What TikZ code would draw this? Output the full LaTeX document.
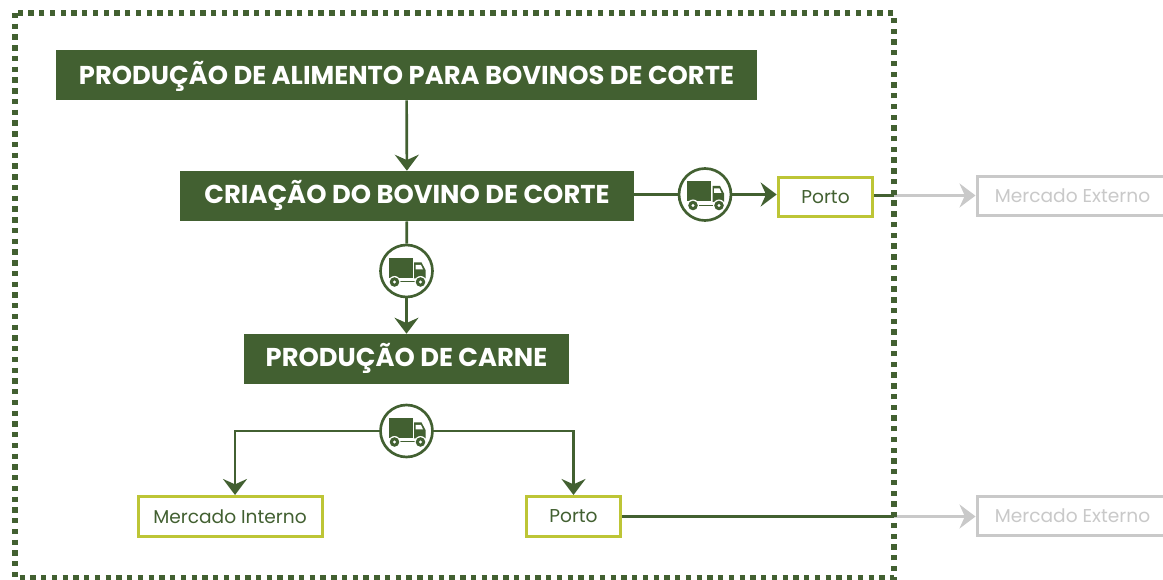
\documentclass[tikz,border=0pt]{standalone}
\usepackage{fontspec}
\setmainfont{Poppins}
\usetikzlibrary{arrows.meta,calc}
\definecolor{grn}{HTML}{426031}
\definecolor{lime}{HTML}{BDC536}
\definecolor{gry}{HTML}{C9C9C9}
\tikzset{x=0.75pt,y=-0.75pt,
  title/.style={fill=grn,text=white,font=\bfseries\fontsize{19.35pt}{22pt}\selectfont,inner sep=0pt,anchor=center,text depth=0pt,text height=12pt},
  dest/.style={draw=lime,line width=2.25pt,fill=white,text=grn,font=\fontsize{13.95pt}{16pt}\selectfont,inner sep=0pt,anchor=center},
  ext/.style={draw=gry,line width=2.25pt,fill=white,text=gry,font=\fontsize{13.95pt}{16pt}\selectfont,inner sep=0pt,anchor=center},
  truckc/.style={circle,draw=grn,line width=2pt,fill=white,minimum size=39pt,inner sep=0pt},
  link/.style={draw=grn,line width=2pt},
  linkg/.style={draw=gry,line width=2pt},
  tip/.style={-{Stealth[length=12pt,width=18pt,inset=4pt]}},
  frame/.style={draw=grn,line width=4pt,dash pattern=on 4pt off 4.06pt}
}
\newcommand{\truckicon}[1]{%
  \begin{scope}[shift={(#1)}]
    \fill[grn] (-18,-13) rectangle (6,7);
    \fill[grn] (7.5,-8.5) -- (15,-8.5) -- (19,-1) -- (19,7.5) -- (7.5,7.5) -- cycle;
    \fill[white] (9,-6) -- (14.5,-6) -- (16.5,-1.5) -- (9,-1.5) -- cycle;
    \draw[grn,line width=0.6pt] (-16,10.5) -- (-14,10.5) (-7,10.5) -- (9,10.5);
    \foreach \cx in {-12,14}{
      \fill[white] (\cx,11) circle (6);
      \fill[grn] (\cx,11) circle (4.8);
      \fill[white] (\cx,11) circle (1.7);
    }
  \end{scope}}
\begin{document}
\begin{tikzpicture}
\useasboundingbox (0,0) rectangle (1163,580);
% nodes
\node[title,text height=13.8pt,minimum width=525.75pt,minimum height=37.5pt] (feed) at (406.5,75) {PRODUÇÃO DE ALIMENTO PARA BOVINOS DE CORTE};
\node[title,minimum width=340.5pt,minimum height=37.5pt] (cria) at (407,196) {CRIAÇÃO DO BOVINO DE CORTE};
\node[title,minimum width=243.75pt,minimum height=37.5pt] (carne) at (406.5,359) {PRODUÇÃO DE CARNE};
\node[dest,minimum width=71pt,minimum height=29.6pt] (porto1) at (825.5,197) {Porto};
\node[ext,minimum width=143.25pt,minimum height=29.6pt] (ext1) at (1072.5,196) {Mercado Externo};
\node[dest,minimum width=138pt,minimum height=30pt] (interno) at (230,516.5) {Mercado Interno};
\node[dest,minimum width=71pt,minimum height=30pt] (porto2) at (573.5,516.5) {Porto};
\node[ext,minimum width=143.25pt,minimum height=29.6pt] (ext2) at (1072.5,516) {Mercado Externo};
\node[truckc] (t1) at (705,194.5) {};
\node[truckc] (t2) at (406.5,271) {};
\node[truckc] (t3) at (406.5,431) {};
\coordinate (f1) at (894,195.5);
\coordinate (f2) at (894,516.5);
% connectors
\draw[link,tip] (feed) -- (cria);
\draw[link] (cria.east |- t1) -- (t1);
\draw[link,tip] (t1) -- (porto1.west |- t1);
\draw[link] (cria) -- (t2);
\draw[link,tip] (t2) -- (carne);
\draw[link,tip] (t3) -| ([xshift=3.75pt]interno.north);
\draw[link,tip] (t3) -| (porto2.north);
\draw[link] (porto1.east |- f1) -- (f1);
\draw[linkg,tip] (f1) -- (ext1.west |- f1);
\draw[link] (porto2.east |- f2) -- (f2);
\draw[linkg,tip] (f2) -- (ext2.west |- f2);
\truckicon{t1}
\truckicon{t2}
\truckicon{t3}
\draw[frame] (15,13) rectangle (894,578);
\end{tikzpicture}
\end{document}
